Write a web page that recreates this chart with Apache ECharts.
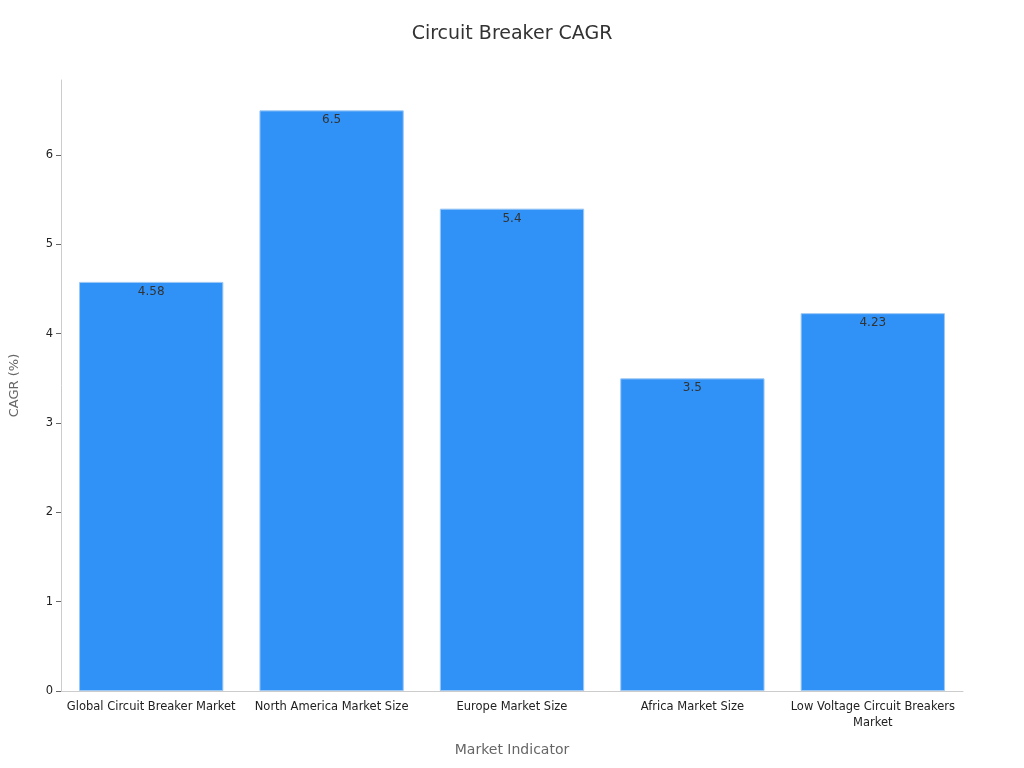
<!DOCTYPE html>
<html>
<head>
<meta charset="utf-8">
<style>html,body{margin:0;overflow:hidden;}</style>
</head>
<body>
<div id="chart" style="width:1024px;height:768px;"></div>
<script src="https://cdn.jsdelivr.net/npm/echarts@6/dist/echarts.min.js"></script>
<script>
    var categories = ['Global Circuit Breaker Market', 'North America Market Size', 'Europe Market Size', 'Africa Market Size', 'Low Voltage Circuit Breakers\nMarket'];
    var cagrValues = [4.58, 6.5, 5.4, 3.5, 4.23];

    var chart = echarts.init(document.getElementById('chart'), null, {renderer: 'canvas'});
    chart.setOption({
        textStyle: {fontFamily: 'DejaVu Sans'},
        title: {
            text: 'Circuit Breaker CAGR', left: 'center', top: 20,
            textStyle: {fontSize: 19, fontWeight: 'normal', color: '#333'}
        },
        grid: {left: 60, right: 61, top: 80, bottom: 77},
        xAxis: {
            type: 'category', data: categories,
            name: 'Market Indicator', nameLocation: 'middle', nameGap: 52,
            nameTextStyle: {fontSize: 14, color: '#666'},
            axisLine: {lineStyle: {color: '#ccc'}},
            axisTick: {alignWithLabel: true, lineStyle: {color: '#999'}},
            axisLabel: {color: '#222', fontSize: 11.5, interval: 0, lineHeight: 16}
        },
        yAxis: {
            type: 'value', min: 0, max: 6.84, interval: 1,
            name: 'CAGR (%)', nameLocation: 'middle', nameGap: 40,
            nameTextStyle: {fontSize: 13, color: '#666'},
            axisLine: {show: true, lineStyle: {color: '#ccc'}},
            axisTick: {show: true, lineStyle: {color: '#666'}},
            axisLabel: {color: '#222', fontSize: 11.5, showMaxLabel: false},
            splitLine: {show: false}
        },
        series: [{
            type: 'bar', data: cagrValues, barCategoryGap: '20%',
            itemStyle: {color: '#3092f7', borderColor: '#9cc8f5', borderWidth: 1},
            label: {show: true, position: 'insideTop', color: '#333', fontSize: 12, distance: 4}
        }]
    });
</script>
</body>
</html>
